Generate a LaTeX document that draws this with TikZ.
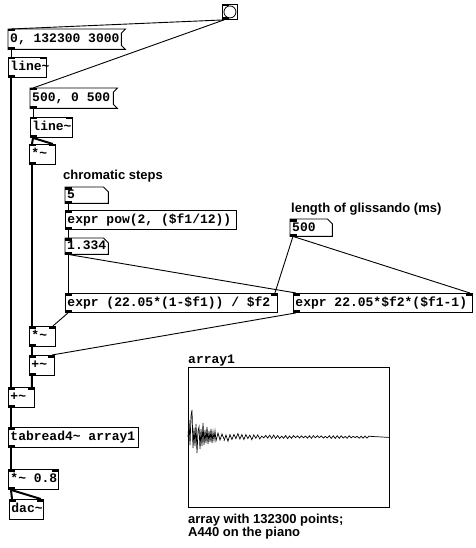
\documentclass[tikz,border=0pt]{standalone}
\usepackage{fontspec}
\newfontfamily\pdmono{Liberation Mono}
\newfontfamily\pdsans{Liberation Sans}
\tikzset{
  box/.style={anchor=north west, inner xsep=2pt, inner ysep=0pt, minimum height=20pt,
    font=\pdmono\bfseries\fontsize{13}{14}\selectfont, text height=9pt, text depth=2pt,
    execute at begin node={\hbox to #1\bgroup}, execute at end node={\hss\egroup}},
  obj/.style={box=#1, draw, line width=0.9pt},
  bare/.style={box=#1},
  sig/.style={line width=2pt},
  ctl/.style={line width=0.9pt},
  cmt/.style={anchor=base west, inner sep=0pt, font=\pdsans\bfseries\fontsize{13}{13}\selectfont},
  boxline/.style={line width=0.9pt},
}
\newcommand\inL[1]{\fill (#1.north west) rectangle ++(7pt,-2.5pt);}
\newcommand\inR[1]{\fill (#1.north east) rectangle ++(-7pt,-2.5pt);}
\newcommand\outL[1]{\fill (#1.south west) rectangle ++(7pt,2.5pt);}
\newcommand\pdmsg[1]{\draw[boxline] (#1.north west) -- ([xshift=4pt]#1.north east) -- ([yshift=-4pt]#1.north east) -- ([yshift=4pt]#1.south east) -- ([xshift=4pt]#1.south east) -- (#1.south west) -- cycle;}
\newcommand\pdnum[1]{\draw[boxline] (#1.north west) -- ([xshift=-5pt]#1.north east) -- ([yshift=-5pt]#1.north east) -- (#1.south east) -- (#1.south west) -- cycle;}
\begin{document}
\begin{tikzpicture}[x=1pt,y=-1pt]
\useasboundingbox (0,0) rectangle (475,548);
\fill[white] (0,0) rectangle (475,548);

% bang
\node[draw, line width=0.9pt, anchor=north west, minimum size=15pt, inner sep=0pt] (bang) at (222,4) {};
\draw[line width=0.8pt] (bang.center) circle (6pt);

% message and objects
\node[bare=109pt] (msg1) at (8,29) {0, 132300 3000};
\pdmsg{msg1}
\node[obj=34pt] (line1) at (8,57) {line\textasciitilde};
\node[bare=79pt] (msg2) at (30,88) {500, 0 500};
\pdmsg{msg2}
\node[obj=38pt] (line2) at (30,117) {line\textasciitilde};
\node[obj=22pt] (mul1) at (29,144) {*\textasciitilde};

\node[cmt] (c1) at (63,179) {chromatic steps};
\node[bare=39pt, minimum height=16pt] (num5) at (65,187) {5};
\pdnum{num5}
\node[obj=167pt, minimum height=19pt] (exprpow) at (65,210) {expr pow(2, (\$f1/12))};
\node[bare=39pt, minimum height=16pt] (num1334) at (65,238) {1.334};
\pdnum{num1334}

\node[cmt] (c2) at (291,212) {length of glissando (ms)};
\node[bare=38pt, minimum height=17pt] (num500) at (290,219) {500};
\pdnum{num500}

\node[obj=208pt, minimum height=19pt] (exprL) at (65,293) {expr (22.05*(1-\$f1)) / \$f2};
\node[obj=175pt, minimum height=19pt] (exprR) at (293,293) {expr 22.05*\$f2*(\$f1-1)};

\node[obj=22pt] (mul2) at (29,326) {*\textasciitilde};
\node[obj=21pt] (add1) at (29,355) {+\textasciitilde};
\node[obj=22pt] (add2) at (8,387) {+\textasciitilde};
\node[obj=126pt] (tabread) at (8,427) {tabread4\textasciitilde\ array1};
\node[obj=46pt] (mul08) at (8,469) {*\textasciitilde\ 0.8};
\node[obj=30pt] (dac) at (9,499) {dac\textasciitilde};

% inlets / outlets
\inL{bang}\outL{bang}
\inL{msg1}\outL{msg1}
\inL{line1}\inR{line1}\outL{line1}
\inL{msg2}\outL{msg2}
\inL{line2}\inR{line2}\outL{line2}
\inL{mul1}\inR{mul1}\outL{mul1}
\inL{num5}\outL{num5}
\inL{exprpow}\outL{exprpow}
\inL{num1334}\outL{num1334}
\inL{num500}\outL{num500}
\inL{exprL}\inR{exprL}\outL{exprL}
\inL{exprR}\inR{exprR}\outL{exprR}
\inL{mul2}\inR{mul2}\outL{mul2}
\inL{add1}\inR{add1}\outL{add1}
\inL{add2}\inR{add2}\outL{add2}
\inL{tabread}\outL{tabread}
\inL{mul08}\inR{mul08}\outL{mul08}
\inL{dac}\inR{dac}

% connections
\draw[ctl] ([xshift=2pt]bang.south west) -- ([xshift=3pt]msg1.north west);
\draw[ctl] ([xshift=2pt]bang.south west) -- ([xshift=3pt]msg2.north west);
\draw[ctl] ([xshift=3pt]msg1.south west) -- ([xshift=3pt]line1.north west);
\draw[sig] ([xshift=3pt]line1.south west) -- ([xshift=3pt]add2.north west);
\draw[ctl] ([xshift=3pt]msg2.south west) -- ([xshift=3pt]line2.north west);
\draw[sig] ([xshift=3pt]line2.south west) -- ([xshift=3pt]mul1.north west);
\draw[sig] ([xshift=3pt]line2.south west) -- ([xshift=-3pt]mul1.north east);
\draw[sig] ([xshift=3pt]mul1.south west) -- ([xshift=3pt]mul2.north west);
\draw[ctl] ([xshift=3pt]num5.south west) -- ([xshift=3pt]exprpow.north west);
\draw[ctl] ([xshift=3pt]exprpow.south west) -- ([xshift=3pt]num1334.north west);
\draw[ctl] ([xshift=3pt]num1334.south west) -- ([xshift=3pt]exprL.north west);
\draw[ctl] ([xshift=3pt]num1334.south west) -- ([xshift=3pt]exprR.north west);
\draw[ctl] ([xshift=3pt]num500.south west) -- ([xshift=-3pt]exprL.north east);
\draw[ctl] ([xshift=3pt]num500.south west) -- ([xshift=-3pt]exprR.north east);
\draw[ctl] ([xshift=3pt]exprL.south west) -- ([xshift=-3pt]mul2.north east);
\draw[ctl] ([xshift=3pt]exprR.south west) -- ([xshift=-3pt]add1.north east);
\draw[sig] ([xshift=3pt]mul2.south west) -- ([xshift=3pt]add1.north west);
\draw[sig] ([xshift=3pt]add1.south west) -- ([xshift=-3pt]add2.north east);
\draw[sig] ([xshift=3pt]add2.south west) -- ([xshift=3pt]tabread.north west);
\draw[sig] ([xshift=3pt]tabread.south west) -- ([xshift=3pt]mul08.north west);
\draw[sig] ([xshift=3pt]mul08.south west) -- ([xshift=3pt]dac.north west);
\draw[sig] ([xshift=3pt]mul08.south west) -- ([xshift=-3pt]dac.north east);

% array
\node[anchor=base west, inner sep=0pt, font=\pdmono\bfseries\fontsize{13}{14}\selectfont] (arrlabel) at (188,363) {array1};
\node[draw, line width=0.9pt, anchor=north west, minimum width=201pt, minimum height=140pt, inner sep=0pt] (graph) at (188,367) {};
\draw[line width=0.7pt] (188,437) -- (189,420) -- (190,445) -- (191,416) -- (192,410) -- (193,448) -- (194,428) -- (195,446) -- (196,424) -- (197,453) -- (198,431) -- (199,427) -- (200,449) -- (201,429) -- (202,446) -- (203,423) -- (204,445) -- (205,430) -- (206,443) -- (207,427) -- (208,444) -- (209,431) -- (210,442) -- (211,429) -- (212,443) -- (213,432) -- (214,440) -- (215,431) -- (216,441) -- (218,433) -- (220,440) -- (222,434) -- (224,439);
\pgfmathsetseed{4242}
\draw[line width=0.7pt] plot[domain=36:183, samples=75, variable=\t] ({188+\t},{437+(4*exp(-(\t-36)/25)+1.4)*(0.4+0.6*rnd)*cos(180*mod(round(\t/2),2))}) -- (graph.east);
\node[cmt] (cap1) at (188,523) {array with 132300 points;};
\node[cmt] (cap2) at (188,536) {A440 on the piano};
\end{tikzpicture}
\end{document}
